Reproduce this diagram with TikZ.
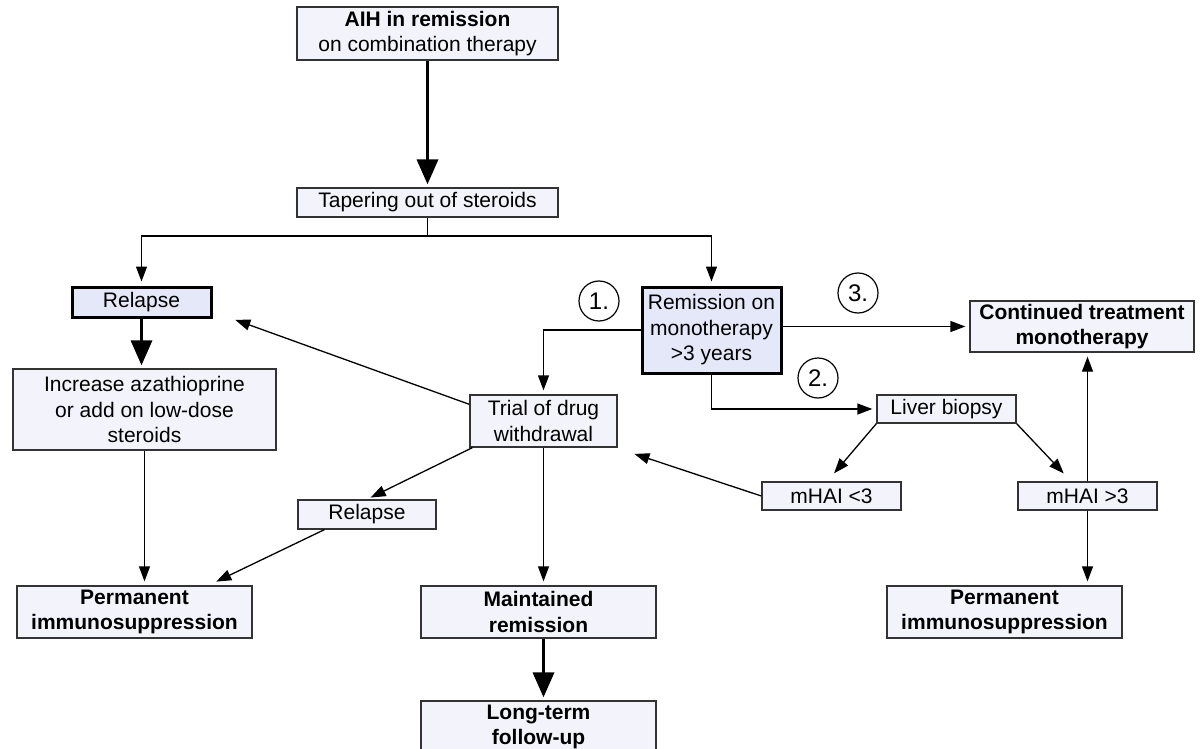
\documentclass[tikz,border=0pt]{standalone}
\usepackage{fontspec}
\setmainfont{Liberation Sans}
\usetikzlibrary{arrows.meta,positioning}
\colorlet{penColor}{black!80}
\definecolor{fill1}{RGB}{243,243,252}
\definecolor{fill2}{RGB}{228,232,248}
\tikzset{
  box/.style={draw=penColor,line width=1.3pt,fill=fill1,align=center,inner sep=2pt,
    font=\fontsize{21}{25.5}\selectfont},
  keybox/.style={box,draw=black,line width=3pt,fill=fill2},
  boldbox/.style={box,font=\fontsize{21}{25.5}\selectfont\bfseries},
  numcircle/.style={draw,circle,line width=1.2pt,minimum size=40pt,inner sep=0pt,
    font=\fontsize{24}{26}\selectfont},
  arr/.style={-{Triangle[length=15pt,width=11pt]},line width=1.3pt,shorten >=4pt},
  bigarr/.style={-{Triangle[length=25pt,width=21pt]},line width=3.5pt,shorten >=3pt},
}

\begin{document}
\begin{tikzpicture}[x=1pt,y=-1pt]
      \useasboundingbox (0,0) rectangle (1200,749);
      \clip (0,0) rectangle (1200,749);

      % boxes
      \node [box,minimum width=261pt,minimum height=53pt] (aih) at (427.5,33.5)
        {\textbf{AIH in remission}\\on combination therapy};
      \node [box,minimum width=261pt,minimum height=29pt] (taper) at (427.5,202.5) {Tapering out of steroids};
      \node [keybox,minimum width=139pt,minimum height=30pt] (relapse) at (141.5,302) {Relapse};
      \node [box,minimum width=263pt,minimum height=81pt] (increase) at (144.5,409.5)
        {Increase azathioprine\\or add on low-dose\\steroids};
      \node [keybox,minimum width=139pt,minimum height=86pt] (remission) at (711.5,330)
        {Remission on\\monotherapy\\>3 years};
      \node [boldbox,minimum width=224pt,minimum height=51pt] (continued) at (1082,326.5)
        {Continued treatment\\monotherapy};
      \node [box,minimum width=147pt,minimum height=52pt] (trial) at (543.5,421) {Trial of drug\\withdrawal};
      \node [box,minimum width=139pt,minimum height=28pt] (liver) at (946.5,409) {Liver biopsy};
      \node [box,minimum width=139pt,minimum height=28pt] (mlow) at (831.5,496) {mHAI <3};
      \node [box,minimum width=139pt,minimum height=28pt] (mhigh) at (1087.5,496) {mHAI >3};
      \node [box,minimum width=138pt,minimum height=29pt] (relapseb) at (367,514.5) {Relapse};
      \node [boldbox,minimum width=235pt,minimum height=52pt] (permL) at (134.5,612)
        {Permanent\\immunosuppression};
      \node [boldbox,minimum width=235pt,minimum height=52pt] (maint) at (538.5,612)
        {Maintained\\remission};
      \node [boldbox,minimum width=235pt,minimum height=52pt] (longterm) at (538.5,727)
        {Long-term\\follow-up};
      \node [boldbox,minimum width=235pt,minimum height=52pt] (permR) at (1004.5,612)
        {Permanent\\immunosuppression};

      % numbered options
      \node [numcircle] (one) at (599,301) {1.};
      \node [numcircle] (two) at (818,378) {2.};
      \node [numcircle] (three) at (858,293) {3.};

      % connectors
      \draw [bigarr] (aih.south) -- (taper.north);
      \coordinate (split) at (427.5,236);
      \draw [line width=1.3pt] (taper.south) -- (split);
      \draw [arr] (split) -| (relapse.north);
      \draw [arr] (split) -| (remission.north);
      \draw [bigarr] (relapse.south) -- (relapse.south |- increase.north);
      \draw [arr] (increase.south) -- (increase.south |- permL.north);
      \draw [arr] ([yshift=-10pt]trial.north west) -- ([xshift=19pt]relapse.south east);
      \draw [arr] (remission.west) -| (trial.north);
      \draw [arr] (remission.south) |- (liver.west);
      \draw [arr] (remission.east |- continued.west) -- (continued.west);
      \draw [arr] (liver.south west) -- ([yshift=5pt]mlow.north);
      \draw [arr] (liver.south east) -- ([xshift=-21pt,yshift=5pt]mhigh.north);
      \draw [arr] (mhigh.north) -- (mhigh.north |- continued.south);
      \draw [arr] (mhigh.south) -- (mhigh.south |- permR.north);
      \draw [arr] (mlow.west) -- ([xshift=13pt,yshift=-5pt]trial.south east);
      \draw [arr] ([xshift=3pt]trial.south west) -- (relapseb.north);
      \draw [arr] ([xshift=27pt]relapseb.south west) -- ([xshift=-40pt,yshift=2pt]permL.north east);
      \draw [arr] (trial.south) -- (trial.south |- maint.north);
      \draw [bigarr] (maint.south -| trial.south) -- (longterm.north -| trial.south);
\end{tikzpicture}
\end{document}
